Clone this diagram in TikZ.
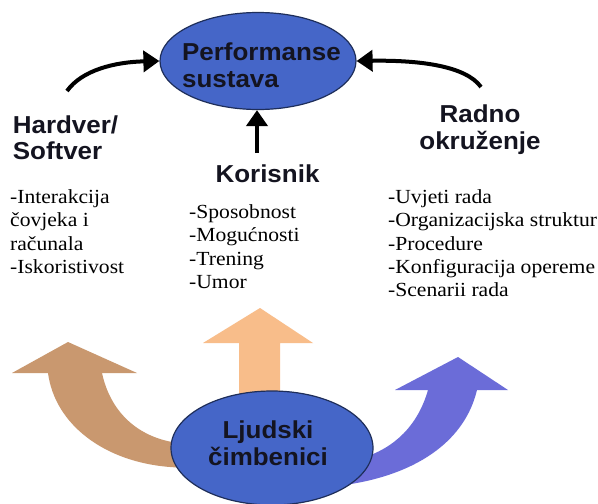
\documentclass[tikz,border=0pt]{standalone}
\usepackage{fontspec}
\setmainfont{Liberation Serif}[FakeStretch=1.08]
\newfontfamily\hsans{Liberation Sans}[FakeStretch=1.06]
\usetikzlibrary{shapes.geometric,arrows.meta}
\definecolor{ellfill}{HTML}{4566C8}
\definecolor{elldraw}{HTML}{1E2E5A}
\definecolor{brownarr}{HTML}{C9986F}
\definecolor{peacharr}{HTML}{F8BD8A}
\definecolor{bluearr}{HTML}{6B6CD8}
\definecolor{labelcol}{HTML}{141420}
\tikzset{
  ell/.style={ellipse, draw=elldraw, line width=1.2pt, fill=ellfill, inner sep=0pt},
  htext/.style={font=\hsans\bfseries\fontsize{24.5}{26.5}\selectfont, text=labelcol, inner sep=0pt},
  listtext/.style={font=\fontsize{20}{23.4}\selectfont, text=black, inner sep=0pt, align=left, anchor=north west},
  blackarrow/.style={line width=4pt, -{Triangle[length=16pt,width=21pt]}}
}
\begin{document}
\begin{tikzpicture}[x=1pt,y=-1pt]
\useasboundingbox (0,0) rectangle (598,504);
\fill[white] (0,0) rectangle (598,504);

% big coloured arrows
\fill[brownarr] (210,470) -- (170,467) .. controls (105,462) and (55,425) .. (48,373)
  -- (12,373) -- (68,342) -- (137,373) -- (102,373)
  .. controls (110,410) and (135,435) .. (172,442) -- (210,444) -- cycle;
\fill[peacharr] (239,420) -- (239,343) -- (203,343) -- (260,308) -- (313,343)
  -- (280,343) -- (280,420) -- cycle;
\fill[bluearr] (330,488) -- (362,482) .. controls (420,470) and (465,440) .. (477,390)
  -- (508,390) -- (458,357) -- (395,390) -- (428,390)
  .. controls (418,425) and (395,448) .. (362,458) -- (330,460) -- cycle;

% ellipses
\node[ell, minimum width=196pt, minimum height=97pt] (perf) at (258,61) {};
\node[htext, align=left] (perft) at (261.5,65) {Performanse\\sustava};
\node[ell, minimum width=202pt, minimum height=114pt] (ljud) at (272,448) {};
\node[htext, align=center] (ljudt) at (268,443) {Ljudski\\čimbenici};

% labels
\node[htext, align=left] (hw) at (65.5,137.5) {Hardver/\\Softver};
\node[htext, anchor=base] (kor) at (267.5,182) {Korisnik};
\node[htext, align=center] (rad) at (480,129.5) {Radno\\okruženje};

% lists
\node[listtext] (hwlist) at (10,189.3) {-Interakcija\\čovjeka i\\računala\\-Iskoristivost};
\node[listtext] (korlist) at (189,204.3) {-Sposobnost\\-Mogućnosti\\-Trening\\-Umor};
\node[listtext] (radlist) at (388,189.3) {-Uvjeti rada\\-Organizacijska struktur\\-Procedure\\-Konfiguracija opereme\\-Scenarii rada};

% black arrows
\coordinate (ltail) at (67,91);
\coordinate (rtail) at (481,87);
\coordinate (ktail) at (257,153);
\draw[blackarrow] (ltail) .. controls (82,70) and (115,62) .. (perf.west);
\draw[blackarrow] (rtail) .. controls (466,66) and (420,60) .. (perf.east);
\draw[blackarrow] (ktail) -- (ktail |- perf.south);
\end{tikzpicture}
\end{document}
